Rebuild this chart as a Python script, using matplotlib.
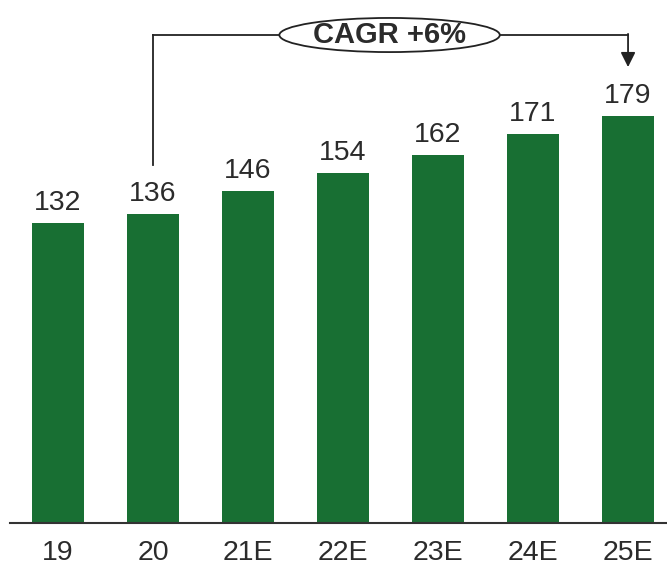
import matplotlib.pyplot as plt
from matplotlib.patches import Ellipse
import numpy as np

# Data
years = ['19', '20', '21E', '22E', '23E', '24E', '25E']
values = [132, 136, 146, 154, 162, 171, 179]
cagr_label = 'CAGR +6%'

plt.rcParams['font.family'] = ['Liberation Sans', 'DejaVu Sans']
green = '#186f33'
text_col = '#2b2b2b'

fig = plt.figure(figsize=(6.67, 5.67), dpi=100)
ax = fig.add_axes([10 / 667, 44 / 567, 657 / 667, 523 / 567])

x = np.arange(len(years))
ax.bar(x, values, width=0.55, color=green)

for xi, v in zip(x, values):
    ax.annotate(str(v), (xi, v), xytext=(0, 5), textcoords='offset points',
                ha='center', va='bottom', fontsize=20.5, color=text_col)

ax.set_xlim(-0.505, 6.41)
ax.set_ylim(0, 230)
ax.set_xticks(x)
ax.set_xticklabels(years, fontsize=20.5, color=text_col)
ax.tick_params(axis='x', length=0, pad=12)
ax.set_yticks([])
for s in ['top', 'right', 'left']:
    ax.spines[s].set_visible(False)
ax.spines['bottom'].set_color('#333333')
ax.spines['bottom'].set_linewidth(1.5)

# CAGR bracket
y_top = 214.6
ax.plot([1, 1], [157.5, y_top], color='#222222', lw=1.3)
ax.plot([1, 6], [y_top, y_top], color='#222222', lw=1.3, zorder=2)
ax.annotate('', xy=(6, 200.5), xytext=(6, y_top + 0.5),
            arrowprops=dict(arrowstyle='-|>', color='#222222', lw=1.3,
                            mutation_scale=22, shrinkA=0, shrinkB=0))
ell = Ellipse((3.49, y_top), 2.32, 15, facecolor='white', edgecolor='#222222',
              lw=1.3, zorder=3)
ax.add_patch(ell)
ax.text(3.49, y_top, cagr_label, ha='center', va='center', fontsize=21,
        fontweight='bold', color=text_col, zorder=4)

fig.savefig('out.png', dpi=100)
